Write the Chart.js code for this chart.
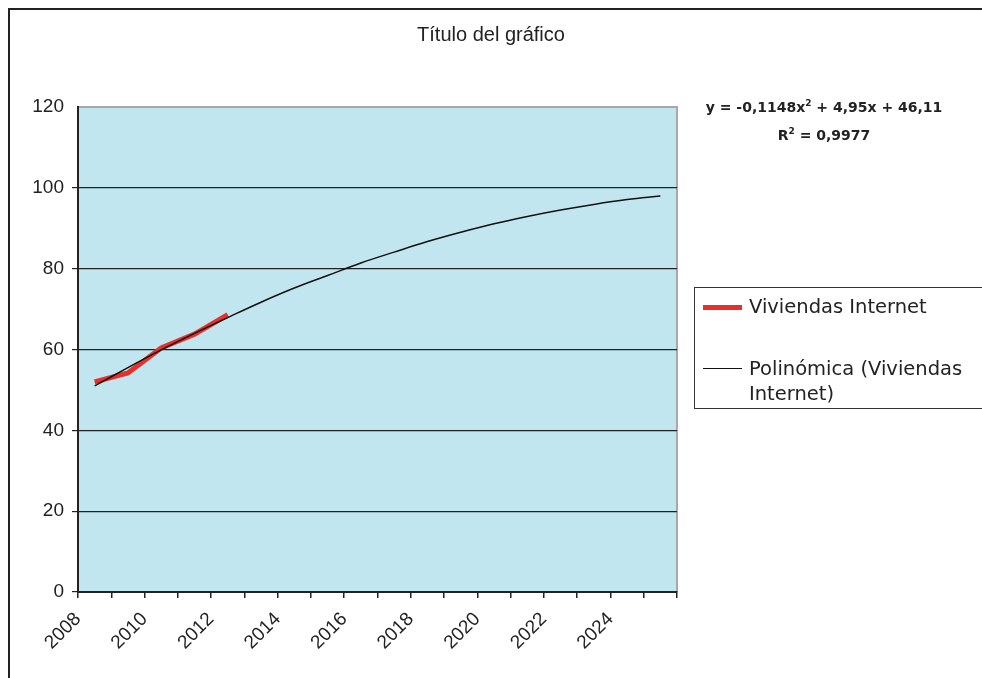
<!DOCTYPE html>
<html>
<head>
<meta charset="utf-8">
<script src="https://cdn.jsdelivr.net/npm/chart.js@4.4.1/dist/chart.umd.min.js"></script>
<style>
  body { margin: 0; background: #fff; }
  #wrap { position: relative; width: 982px; height: 678px; overflow: hidden; }
  #frame { position: absolute; left: 8px; top: 8px; width: 1000px; height: 700px; border: 2px solid #222; }
  #title { position: absolute; left: 0; width: 982px; top: 23px; text-align: center;
    font: 20px "Liberation Sans", Arial, sans-serif; color: #222; }
  #eq { position: absolute; left: 688px; width: 272px; top: 93px; text-align: center;
    font: bold 14px "DejaVu Sans", sans-serif; color: #222; line-height: 28px; }
  #eq sup { font-size: 9px; line-height: 0; }
  #legend { position: absolute; left: 694px; top: 287px; width: 320px; height: 120px;
    border: 1px solid #333; font: 19.5px "DejaVu Sans", sans-serif; color: #222; }
  .item { position: absolute; left: 8px; }
  .sw { position: absolute; left: 0; width: 39px; }
  .txt { position: absolute; left: 46px; white-space: nowrap; line-height: 25px; }
  canvas { position: absolute; left: 0; top: 0; }
</style>
</head>
<body>
<div id="wrap">
  <div id="frame"></div>
  <canvas id="chart" width="982" height="678"></canvas>
  <div id="title">Título del gráfico</div>
  <div id="eq">y = -0,1148x<sup>2</sup> + 4,95x + 46,11<br>R<sup>2</sup> = 0,9977</div>
  <div id="legend">
    <div class="item" style="top:19px"><div class="sw" style="top:-2px;height:5px;background:#e5302c"></div><div class="txt" style="top:-13px">Viviendas Internet</div></div>
    <div class="item" style="top:80px"><div class="sw" style="top:0;height:1px;background:#111"></div><div class="txt" style="top:-12px">Polinómica (Viviendas<br>Internet)</div></div>
  </div>
</div>
<script>
// data
const years = [2008,2009,2010,2011,2012,2013,2014,2015,2016,2017,2018,2019,2020,2021,2022,2023,2024,2025];
const viviendasInternet = [52.0, 54.2, 60.4, 63.8, 68.6];
const tendencia = [51.0, 55.5, 59.9, 64.0, 67.9, 71.7, 75.2, 78.3, 81.4, 84.1, 86.7, 89.0, 91.1, 92.9, 94.5, 95.9, 97.1, 98.0];
const yTicks = [0, 20, 40, 60, 80, 100, 120];

// points sit in the middle of each year
const pts = (vals) => vals.map((v, i) => ({ x: years[i] + 0.5, y: v }));

const plotBg = {
  id: 'plotBg',
  beforeDraw(chart) {
    const { ctx, chartArea: a } = chart;
    ctx.save();
    ctx.fillStyle = '#c2e6ef';
    ctx.fillRect(a.left, a.top, a.right - a.left, a.bottom - a.top);
    ctx.strokeStyle = '#a8a8a8';
    ctx.lineWidth = 2;
    ctx.beginPath();
    ctx.moveTo(a.left, a.top);
    ctx.lineTo(a.right, a.top);
    ctx.lineTo(a.right, a.bottom);
    ctx.stroke();
    ctx.restore();
  }
};

new Chart(document.getElementById('chart').getContext('2d'), {
  type: 'line',
  data: {
    datasets: [
      { label: 'Viviendas Internet', data: pts(viviendasInternet), borderColor: '#e5302c',
        borderWidth: 5, pointRadius: 0, tension: 0, order: 2 },
      { label: 'Polinómica (Viviendas Internet)', data: pts(tendencia), borderColor: '#111',
        borderWidth: 1.5, pointRadius: 0, tension: 0.4, order: 1 }
    ]
  },
  options: {
    responsive: false,
    animation: false,
    layout: { padding: { left: 0, top: 107, right: 305, bottom: 0 } },
    plugins: { legend: { display: false }, tooltip: { enabled: false } },
    scales: {
      x: {
        type: 'linear', min: 2008, max: 2026,
        afterBuildTicks: (s) => { s.ticks = years.concat([2026]).map(v => ({ value: v })); },
        afterFit: (s) => { s.height = 86; },
        ticks: {
          autoSkip: false, minRotation: 45, maxRotation: 45, padding: 10,
          color: '#222', font: { family: 'Liberation Sans', size: 19 },
          callback: (v) => (v % 2 === 0 && v < 2026) ? String(v) : ''
        },
        grid: { drawOnChartArea: false, drawTicks: true, tickLength: 6, color: '#222', lineWidth: 1.5 },
        border: { color: '#222', width: 2 }
      },
      y: {
        min: 0, max: 120,
        afterBuildTicks: (s) => { s.ticks = yTicks.map(v => ({ value: v })); },
        afterFit: (s) => { s.width = 78; },
        ticks: { color: '#222', padding: 8, font: { family: 'Liberation Sans', size: 19 } },
        grid: { color: (c) => c.tick && c.tick.value === 120 ? 'rgba(0,0,0,0)' : '#222',
          lineWidth: 1.2, tickLength: 6 },
        border: { color: '#222', width: 2 }
      }
    }
  },
  plugins: [plotBg]
});
</script>
</body>
</html>
